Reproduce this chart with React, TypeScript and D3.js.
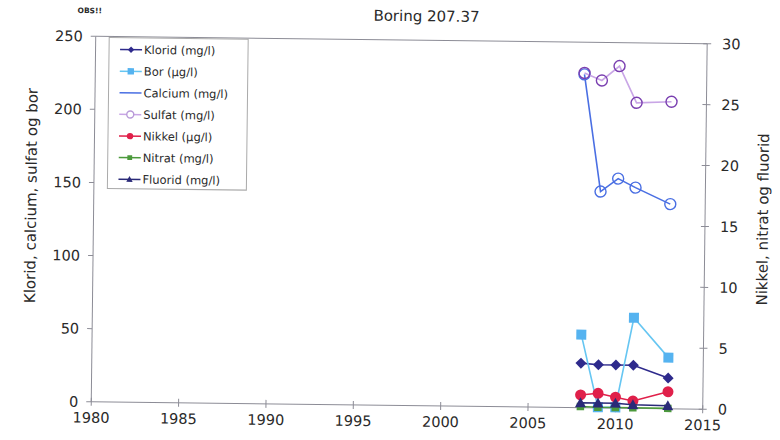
import React from 'react';
import * as d3 from 'd3';

// data
const years = [2008, 2009, 2010, 2011, 2013];
const klorid = [30.5, 29.5, 29.5, 29.5, 21];
const bor = [50, 0.5, 0.5, 62, 35];
const calcium = [228, 148, 157, 151, 140];
const sulfat = [229, 224, 234, 209, 210];
const nikkel = [1.05, 1.2, 0.9, 0.6, 1.4];
const nitrat = [0.1, 0.05, 0.05, 0.05, 0.03];
const fluorid = [0.4, 0.4, 0.4, 0.3, 0.25];

const xTicks = [1980, 1985, 1990, 1995, 2000, 2005, 2010, 2015];
const leftTicks = [0, 50, 100, 150, 200, 250];
const rightTicks = [0, 5, 10, 15, 20, 25, 30];

type Marker = 'diamond' | 'square' | 'circleOpen' | 'circle' | 'smallSquare' | 'triangle' | 'none';

interface Series {
  name: string;
  values: number[];
  axis: 'left' | 'right';
  line: string;
  fill: string;
  marker: Marker;
  legendMarker: Marker;
}

const series: Series[] = [
  { name: 'Klorid (mg/l)', values: klorid, axis: 'left', line: '#2e2a8c', fill: '#2e2a8c', marker: 'diamond', legendMarker: 'diamond' },
  { name: 'Bor (µg/l)', values: bor, axis: 'left', line: '#66c6f2', fill: '#55b3f0', marker: 'square', legendMarker: 'square' },
  { name: 'Calcium (mg/l)', values: calcium, axis: 'left', line: '#4a6fe3', fill: '#4a6fe3', marker: 'circleOpen', legendMarker: 'none' },
  { name: 'Sulfat (mg/l)', values: sulfat, axis: 'left', line: '#c9a6e6', fill: '#7a3fb0', marker: 'circleOpen', legendMarker: 'circleOpen' },
  { name: 'Nikkel (µg/l)', values: nikkel, axis: 'right', line: '#e0204a', fill: '#e0204a', marker: 'circle', legendMarker: 'circle' },
  { name: 'Nitrat (mg/l)', values: nitrat, axis: 'right', line: '#4c9a3c', fill: '#4c9a3c', marker: 'smallSquare', legendMarker: 'smallSquare' },
  { name: 'Fluorid (mg/l)', values: fluorid, axis: 'right', line: '#2a2a78', fill: '#2a2a78', marker: 'triangle', legendMarker: 'triangle' },
];

const W = 780;
const H = 440;
const font = '"DejaVu Sans", Verdana, sans-serif';

function Symbol({ kind, x, y, s, color, legendFill }: { kind: Marker; x: number; y: number; s: number; color: string; legendFill?: string }) {
  if (kind === 'diamond') {
    return <path d={`M${x},${y - s}L${x + s},${y}L${x},${y + s}L${x - s},${y}Z`} fill={color} />;
  }
  if (kind === 'square') {
    return <rect x={x - s} y={y - s} width={2 * s} height={2 * s} fill={color} />;
  }
  if (kind === 'smallSquare') {
    return <rect x={x - s * 0.75} y={y - s * 0.75} width={1.5 * s} height={1.5 * s} fill={color} />;
  }
  if (kind === 'circleOpen') {
    return <circle cx={x} cy={y} r={s} fill={legendFill || 'none'} stroke={color} strokeWidth={1.4} />;
  }
  if (kind === 'circle') {
    return <circle cx={x} cy={y} r={s} fill={color} />;
  }
  if (kind === 'triangle') {
    return <path d={`M${x},${y - s}L${x + s},${y + s * 0.8}L${x - s},${y + s * 0.8}Z`} fill={color} />;
  }
  return null;
}

export default function App() {
  const margin = { left: 93.5, right: 705, top: 40, bottom: 405.5 };

  const x = d3.scaleLinear().domain([1980, 2015]).range([margin.left, margin.right]);
  const yL = d3.scaleLinear().domain([0, 250]).range([margin.bottom, margin.top]);
  const yR = d3.scaleLinear().domain([0, 30]).range([margin.bottom, margin.top]);

  const axisColor = '#8c8c96';
  const textColor = '#2a2a2a';

  const legendX = 107;
  const legendY = 41;
  const rowH = 21.6;

  return (
    <svg width={W} height={H} style={{ position: 'fixed', left: 0, top: 0, background: '#fff' }} fontFamily={font}>
      <rect width={W} height={H} fill="#fff" />
      {/* the scan is slightly rotated */}
      <g transform="rotate(0.7 400 220)">
        <text x={75} y={17} fontSize={7.5} fontWeight="bold" fill={textColor}>OBS!!</text>
        <text x={424} y={21} fontSize={15} textAnchor="middle" fill={textColor}>Boring 207.37</text>

        {/* frame */}
        <line x1={margin.left} x2={margin.right} y1={margin.top} y2={margin.top} stroke={axisColor} strokeWidth={1} />
        <line x1={margin.left} x2={margin.left} y1={margin.top} y2={margin.bottom} stroke={axisColor} strokeWidth={1} />
        <line x1={margin.right} x2={margin.right} y1={margin.top} y2={margin.bottom} stroke={axisColor} strokeWidth={1} />
        <line x1={margin.left} x2={margin.right} y1={margin.bottom} y2={margin.bottom} stroke={axisColor} strokeWidth={1} />

        {/* left axis */}
        {leftTicks.map(t => (
          <g key={'l' + t}>
            <line x1={margin.left - 5} x2={margin.left} y1={yL(t)} y2={yL(t)} stroke={axisColor} />
            <text x={margin.left - 13} y={yL(t)} dy="0.36em" fontSize={14.5} textAnchor="end" fill={textColor}>{t}</text>
          </g>
        ))}
        {/* right axis */}
        {rightTicks.map(t => (
          <g key={'r' + t}>
            <line x1={margin.right - 4} x2={margin.right + 4} y1={yR(t)} y2={yR(t)} stroke={axisColor} />
            <text x={margin.right + 15} y={yR(t)} dy="0.36em" fontSize={14.5} textAnchor="start" fill={textColor}>{t}</text>
          </g>
        ))}
        {/* bottom axis */}
        {xTicks.map(t => (
          <g key={'x' + t}>
            <line x1={x(t)} x2={x(t)} y1={margin.bottom - 4} y2={margin.bottom + 4} stroke={axisColor} />
            <text x={x(t)} y={margin.bottom + 21} fontSize={14.5} textAnchor="middle" fill={textColor}>{t}</text>
          </g>
        ))}

        <text transform={`translate(36,200) rotate(-90)`} fontSize={15} textAnchor="middle" fill={textColor}>
          Klorid, calcium, sulfat og bor
        </text>
        <text transform={`translate(768,215) rotate(-90)`} fontSize={15} textAnchor="middle" fill={textColor}>
          Nikkel, nitrat og fluorid
        </text>

        {/* series */}
        {series.map(s => {
          const yS = s.axis === 'left' ? yL : yR;
          const line = d3.line<number>().x((_, i) => x(years[i])).y(v => yS(v));
          return (
            <g key={s.name}>
              <path d={line(s.values) || ''} fill="none" stroke={s.line} strokeWidth={1.6} />
              {s.values.map((v, i) => (
                <Symbol key={i} kind={s.marker} x={x(years[i])} y={yS(v)}
                  s={s.marker === 'square' ? 5 : s.marker === 'smallSquare' ? 5 : 5.5}
                  color={s.fill} />
              ))}
            </g>
          );
        })}

        {/* legend */}
        <rect x={legendX} y={legendY} width={139} height={151} fill="#fff" stroke="#aaa" strokeWidth={1} />
        {series.map((s, i) => {
          const cy = legendY + 12 + i * rowH;
          return (
            <g key={'lg' + s.name}>
              <line x1={legendX + 11} x2={legendX + 33} y1={cy} y2={cy} stroke={s.line} strokeWidth={1.5} />
              <Symbol kind={s.legendMarker} x={legendX + 22} y={cy} s={s.legendMarker === 'circleOpen' ? 3.5 : 3.2}
                color={s.name.startsWith('Sulfat') ? '#b89ad8' : s.fill} legendFill="#fff" />
              <text x={legendX + 35} y={cy} dy="0.36em" fontSize={11.5} fill={textColor}>{s.name}</text>
            </g>
          );
        })}
      </g>
    </svg>
  );
}
